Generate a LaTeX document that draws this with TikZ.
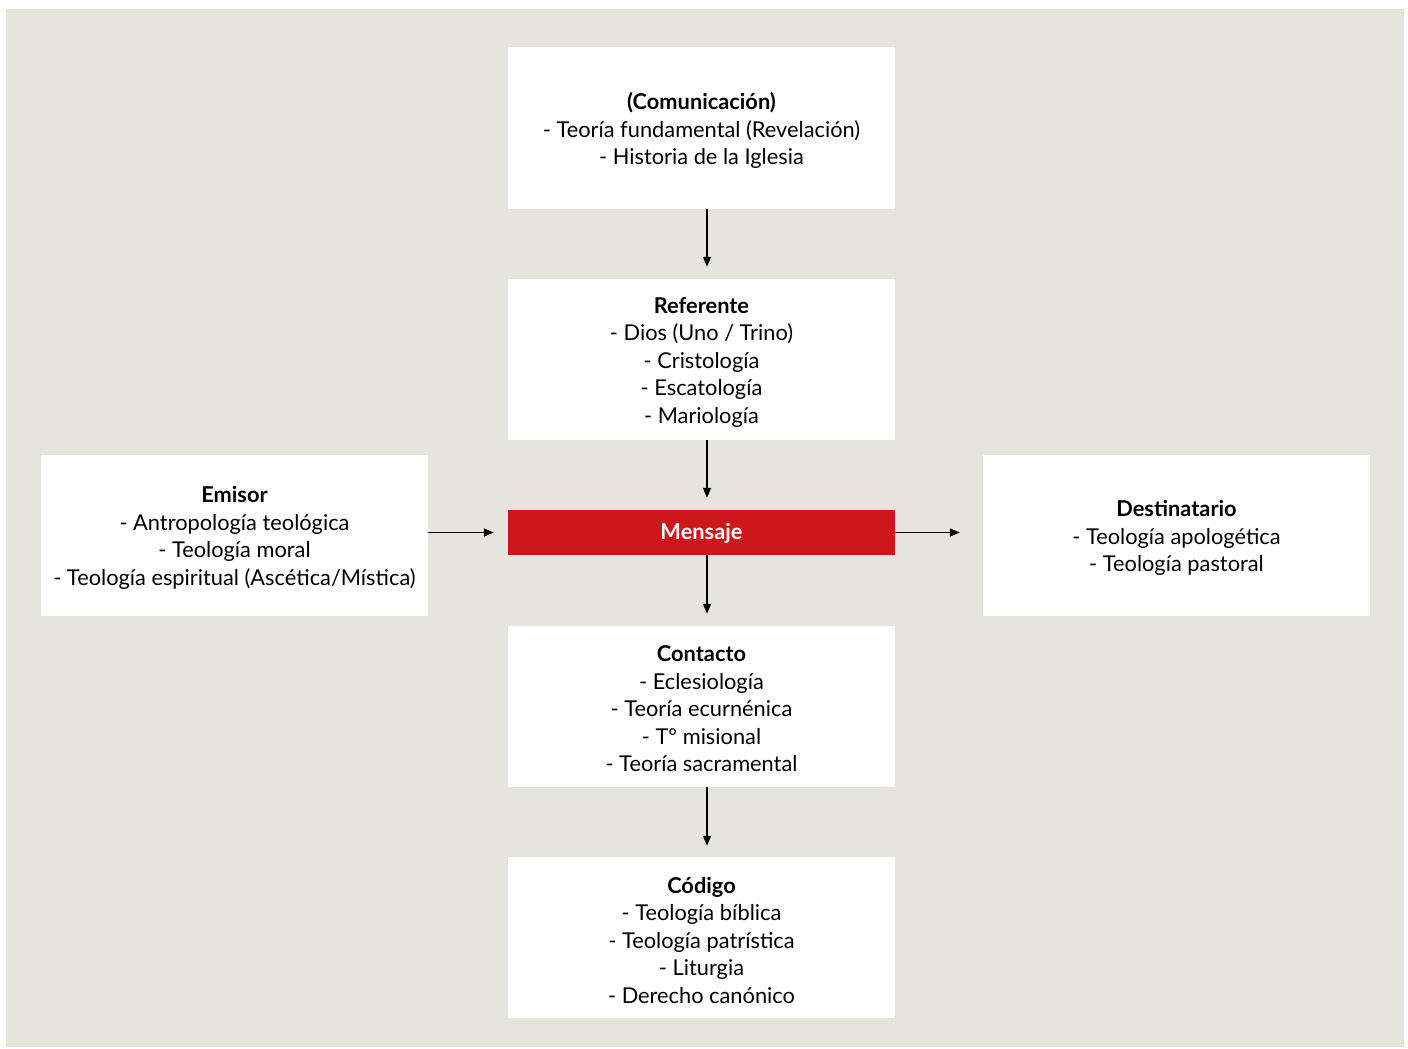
\documentclass[tikz,border=0pt]{standalone}
\usepackage{fontspec}
\setmainfont{Lato}
\usetikzlibrary{arrows.meta}
\definecolor{bg}{HTML}{E6E5DD}
\definecolor{msgred}{HTML}{CE171C}
\begin{document}
\begin{tikzpicture}[x=1pt,y=-1pt,
  box/.style={fill=white,draw=none,minimum width=387pt,minimum height=161pt,inner sep=0pt},
  txt/.style={inner sep=0pt,align=center,font=\fontsize{21.8}{27.5}\selectfont},
  msgbox/.style={fill=msgred,draw=none,minimum width=387pt,minimum height=45pt,inner sep=0pt},
  arr/.style={-{Triangle[length=10pt,width=8pt]},line width=1.3pt}]
\useasboundingbox (0,0) rectangle (1408,1049);
\fill[bg] (6,9) rectangle (1404,1047);
\node[box] (com) at (701.5,128) {};
\node[box] (ref) at (701.5,359.5) {};
\node[msgbox] (msg) at (701.5,532.5) {};
\node[box] (con) at (701.5,706.5) {};
\node[box] (cod) at (701.5,937.5) {};
\node[box] (emi) at (234.5,535.5) {};
\node[box] (des) at (1176.5,535.5) {};
\node[txt] (comt) at ([yshift=-2.5pt]com.center) {\textbf{(Comunicación)}\\- Teoría fundamental (Revelación)\\- Historia de la Iglesia};
\node[txt] (reft) at ([yshift=-2.5pt]ref.center) {\textbf{Referente}\\- Dios (Uno / Trino)\\- Cristología\\- Escatología\\- Mariología};
\node[txt,text=white,font=\fontsize{21.8}{27.5}\selectfont\bfseries] (msgt) at ([yshift=-1pt]msg.center) {Mensaje};
\node[txt] (cont) at ([yshift=-2.5pt]con.center) {\textbf{Contacto}\\- Eclesiología\\- Teoría ecurnénica\\- Tº misional\\- Teoría sacramental};
\node[txt] (codt) at ([yshift=-2.5pt]cod.center) {\textbf{Código}\\- Teología bíblica\\- Teología patrística\\- Liturgia\\- Derecho canónico};
\node[txt] (emit) at ([yshift=-2.5pt]emi.center) {\textbf{Emisor}\\- Antropología teológica\\- Teología moral\\- Teología espiritual (Ascética/Mística)};
\node[txt] (dest) at ([yshift=-2.5pt]des.center) {\textbf{Destinatario}\\- Teología apologética\\- Teología pastoral};
\draw[arr] ([xshift=5.5pt]com.south) -- ([xshift=5.5pt,yshift=12pt]ref.north);
\draw[arr] ([xshift=5.5pt]ref.south) -- ([xshift=5.5pt,yshift=12pt]msg.north);
\draw[arr] ([xshift=5.5pt]msg.south) -- ([xshift=5.5pt,yshift=12pt]con.north);
\draw[arr] ([xshift=5.5pt]con.south) -- ([xshift=5.5pt,yshift=11pt]cod.north);
\draw[arr] (emi.east |- msg.west) -- ([xshift=-14pt]msg.west);
\draw[arr] (msg.east) -- ([xshift=-23pt]des.west |- msg.east);
\end{tikzpicture}
\end{document}
